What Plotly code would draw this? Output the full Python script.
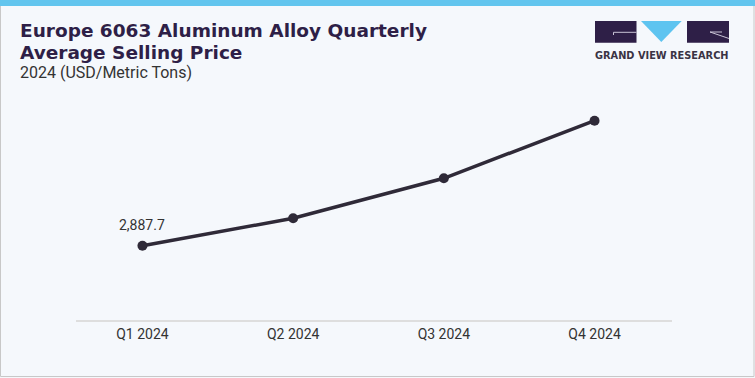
import plotly.graph_objects as go

# ---- data ----
quarters = ["Q1 2024", "Q2 2024", "Q3 2024", "Q4 2024"]
prices = [2887.7, 2950.6, 3042.6, 3175.0]
label_text = "2,887.7"

title_line1 = "Europe 6063 Aluminum Alloy Quarterly"
title_line2 = "Average Selling Price"
subtitle = "2024 (USD/Metric Tons)"
brand = "GRAND VIEW RESEARCH"

W, H = 755, 378
L, R, T, B = 76, 83, 100, 58
PW, PH = W - L - R, H - T - B


def px(x):
    return (x - L) / PW


def py(y):
    return (H - B - y) / PH


DARK = "#2e1f47"
BG = "#f5f8fc"

fig = go.Figure()
fig.add_trace(go.Scatter(
    x=quarters, y=prices, mode="lines+markers",
    line=dict(color="#2f2a38", width=3.5),
    marker=dict(color="#2f2a38", size=10),
    hoverinfo="skip", showlegend=False,
))

fig.add_annotation(x=quarters[0], y=prices[0], text=label_text, showarrow=False,
                   yshift=21, xanchor="center", yanchor="middle",
                   font=dict(family="Roboto", size=14, color="#333333"))

shapes = []
# outer border
shapes.append(dict(type="rect", xref="paper", yref="paper",
                   x0=px(0.5), x1=px(W - 1), y0=py(H - 1.5), y1=py(0),
                   line=dict(color="#c8c8c8", width=1), fillcolor="rgba(0,0,0,0)", layer="below"))
# top bar
shapes.append(dict(type="rect", xref="paper", yref="paper",
                   x0=px(0), x1=px(W), y0=py(6), y1=py(0),
                   line=dict(width=0), fillcolor="#62c5ee", layer="above"))
# logo
shapes.append(dict(type="rect", xref="paper", yref="paper",
                   x0=px(595), x1=px(636.5), y0=py(42.7), y1=py(21),
                   line=dict(width=0), fillcolor=DARK))
shapes.append(dict(type="path", xref="paper", yref="paper",
                   path=f"M {px(641)},{py(21)} L {px(681.7)},{py(21)} L {px(661.3)},{py(42)} Z",
                   line=dict(width=0), fillcolor="#5ec4f0"))
shapes.append(dict(type="rect", xref="paper", yref="paper",
                   x0=px(687), x1=px(729), y0=py(42.7), y1=py(21),
                   line=dict(width=0), fillcolor=DARK))
shapes.append(dict(type="line", xref="paper", yref="paper",
                   x0=px(613.5), x1=px(636.5), y0=py(32.3), y1=py(32.3),
                   line=dict(color="#c9c3d6", width=1)))
shapes.append(dict(type="line", xref="paper", yref="paper",
                   x0=px(613.5), x1=px(613.5), y0=py(32.3), y1=py(35),
                   line=dict(color="#c9c3d6", width=1)))
shapes.append(dict(type="line", xref="paper", yref="paper",
                   x0=px(710), x1=px(729), y0=py(32), y1=py(38.5),
                   line=dict(color="#c9c3d6", width=1)))
shapes.append(dict(type="line", xref="paper", yref="paper",
                   x0=px(710), x1=px(722), y0=py(32), y1=py(32),
                   line=dict(color="#c9c3d6", width=1)))

annos = [
    dict(text=f"<b>{title_line1}</b>", x=px(19), y=py(30.5), xanchor="left", yanchor="middle",
         font=dict(family="DejaVu Sans", size=18.5, color=DARK)),
    dict(text=f"<b>{title_line2}</b>", x=px(19), y=py(52.5), xanchor="left", yanchor="middle",
         font=dict(family="DejaVu Sans", size=18.5, color=DARK)),
    dict(text=subtitle, x=px(19), y=py(73), xanchor="left", yanchor="middle",
         font=dict(family="Roboto", size=16, color="#333333")),
    dict(text=f"<b>{brand}</b>", x=px(662), y=py(55.3), xanchor="center", yanchor="middle",
         font=dict(family="DejaVu Sans", size=9.8, color="#3a3344")),
]
for a in annos:
    a.update(xref="paper", yref="paper", showarrow=False, borderpad=0)
    fig.add_annotation(**a)

fig.update_layout(
    width=W, height=H,
    margin=dict(l=L, r=R, t=T, b=B, autoexpand=False),
    paper_bgcolor=BG, plot_bgcolor=BG,
    shapes=shapes,
    xaxis=dict(type="category", range=[-0.441, 3.514], showgrid=False, zeroline=False,
               showline=True, linecolor="#dedede", linewidth=2, ticks="",
               tickfont=dict(family="Roboto", size=14, color="#333333"), fixedrange=True),
    yaxis=dict(range=[2716.9, 3222.5], visible=False, showgrid=False, zeroline=False,
               fixedrange=True),
)

fig.write_html("out.html", config=dict(displayModeBar=False),
               post_script="document.body.style.margin='0';document.body.style.background='%s';" % BG)
